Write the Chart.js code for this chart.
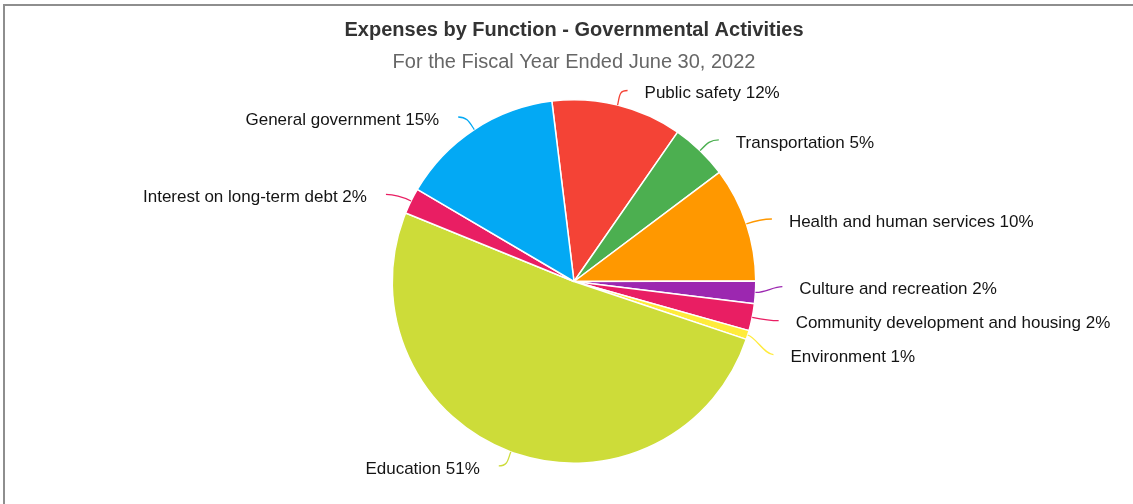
<!DOCTYPE html>
<html>
<head>
<meta charset="utf-8">
<script src="https://cdn.jsdelivr.net/npm/chart.js@4"></script>
<style>
  html, body { margin: 0; padding: 0; background: #fff; overflow: hidden; }
  #wrap { position: absolute; left: 0; top: 0; width: 1148px; height: 504px; }
  #frame { position: absolute; left: 3px; top: 4px; width: 1200px; height: 600px;
           border-top: 2px solid #8e8e8e; border-left: 2px solid #8e8e8e; pointer-events: none; }
</style>
</head>
<body>
<div id="wrap"><canvas id="c"></canvas></div>
<div id="frame"></div>
<script>
const titleText = "Expenses by Function - Governmental Activities";
const subtitleText = "For the Fiscal Year Ended June 30, 2022";
const categories = [
  "Public safety",
  "Transportation",
  "Health and human services",
  "Culture and recreation",
  "Community development and housing",
  "Environment",
  "Education",
  "Interest on long-term debt",
  "General government"
];
const values = [11.6, 5.1, 10.2, 2.0, 2.4, 0.8, 51.0, 2.3, 14.6];
const colors = ["#F44336", "#4CAF50", "#FF9800", "#9C27B0", "#E91E63", "#FFEB3B", "#CDDC39", "#E91E63", "#03A9F4"];

const fontFamily = '"Liberation Sans", Arial, sans-serif';
const labelFont = '17px ' + fontFamily;

// weighted label distribution: bigger slices keep their natural place
function distribute(items, gap, minY, maxY) {
  items.sort((a, b) => a.ty - b.ty);
  let clusters = items.map(it => ({ items: [it] }));
  const startOf = c => {
    let s = 0, w = 0;
    c.items.forEach((it, k) => { s += (it.ty - k * gap) * it.w; w += it.w; });
    let st = s / w;
    const end = st + (c.items.length - 1) * gap;
    if (st < minY) st = minY;
    if (end > maxY) st = maxY - (c.items.length - 1) * gap;
    return st;
  };
  let changed = true;
  while (changed) {
    changed = false;
    for (let i = 1; i < clusters.length; i++) {
      const a = clusters[i - 1], b = clusters[i];
      const aEnd = startOf(a) + (a.items.length - 1) * gap;
      if (startOf(b) - aEnd < gap) {
        clusters.splice(i - 1, 2, { items: a.items.concat(b.items) });
        changed = true;
        break;
      }
    }
  }
  clusters.forEach(c => {
    const st = startOf(c);
    c.items.forEach((it, k) => { it.y = st + k * gap; });
  });
}

const pieLabels = {
  id: 'pieLabels',
  afterDatasetsDraw(chart) {
    const ctx = chart.ctx;
    const meta = chart.getDatasetMeta(0);
    const ds = chart.data.datasets[0];
    const total = ds.data.reduce((a, b) => a + b, 0);
    const right = [], left = [];
    meta.data.forEach((arc, i) => {
      const p = arc.getProps(['x', 'y', 'startAngle', 'endAngle', 'outerRadius'], true);
      const mid = (p.startAngle + p.endAngle) / 2;
      const c = Math.cos(mid), s = Math.sin(mid);
      const isRight = c >= 0;
      const dir = isRight ? 1 : -1;
      const rN = p.outerRadius + 30, rX = p.outerRadius + 32;
      const dyN = s * rN;
      const pad = isRight ? 12 : 15;
      const tx = p.x + dir * (Math.sqrt(Math.max(rX * rX - dyN * dyN, 0)) + pad);
      const item = {
        i, cx: p.x, cy: p.y, r: p.outerRadius, c, s, isRight, dir, w: ds.data[i],
        ty: p.y + 2 + s * (p.outerRadius + 15),
        tx, gap: isRight ? 17 : 19,
        text: chart.data.labels[i] + ' ' + Math.round(ds.data[i] / total * 100) + '%'
      };
      (isRight ? right : left).push(item);
    });
    distribute(right, 34, 80, 490);
    distribute(left, 34, 80, 490);
    ctx.save();
    ctx.font = labelFont;
    ctx.textBaseline = 'middle';
    right.concat(left).forEach(it => {
      const sx = it.cx + it.c * it.r, sy = it.cy + it.s * it.r;
      const dir = it.dir;
      const ex = it.tx - dir * it.gap, ey = it.y - 2;
      ctx.beginPath();
      ctx.moveTo(sx, sy);
      ctx.bezierCurveTo(sx + it.c * 9, sy + it.s * 9, ex - dir * 9, ey, ex, ey);
      ctx.strokeStyle = colors[it.i];
      ctx.lineWidth = 1.3;
      ctx.stroke();
      ctx.fillStyle = '#141414';
      ctx.textAlign = it.isRight ? 'left' : 'right';
      ctx.fillText(it.text, it.tx, it.y + 1);
    });
    ctx.restore();
  }
};

new Chart(document.getElementById('c'), {
  type: 'pie',
  data: {
    labels: categories,
    datasets: [{
      data: values,
      backgroundColor: colors,
      borderColor: '#ffffff',
      borderWidth: 1.5,
      hoverOffset: 0
    }]
  },
  options: {
    responsive: true,
    maintainAspectRatio: false,
    animation: false,
    rotation: -7,
    layout: { padding: { top: 0, bottom: 40, left: 0, right: 0 } },
    plugins: {
      legend: { display: false },
      tooltip: { enabled: false },
      title: {
        display: true,
        text: titleText,
        color: '#333333',
        font: { family: fontFamily, size: 20, weight: 'bold' },
        padding: { top: 18, bottom: 0 }
      },
      subtitle: {
        display: true,
        text: subtitleText,
        color: '#666666',
        font: { family: fontFamily, size: 20 },
        padding: { top: 8, bottom: 25 }
      }
    }
  },
  plugins: [pieLabels]
});
</script>
</body>
</html>
